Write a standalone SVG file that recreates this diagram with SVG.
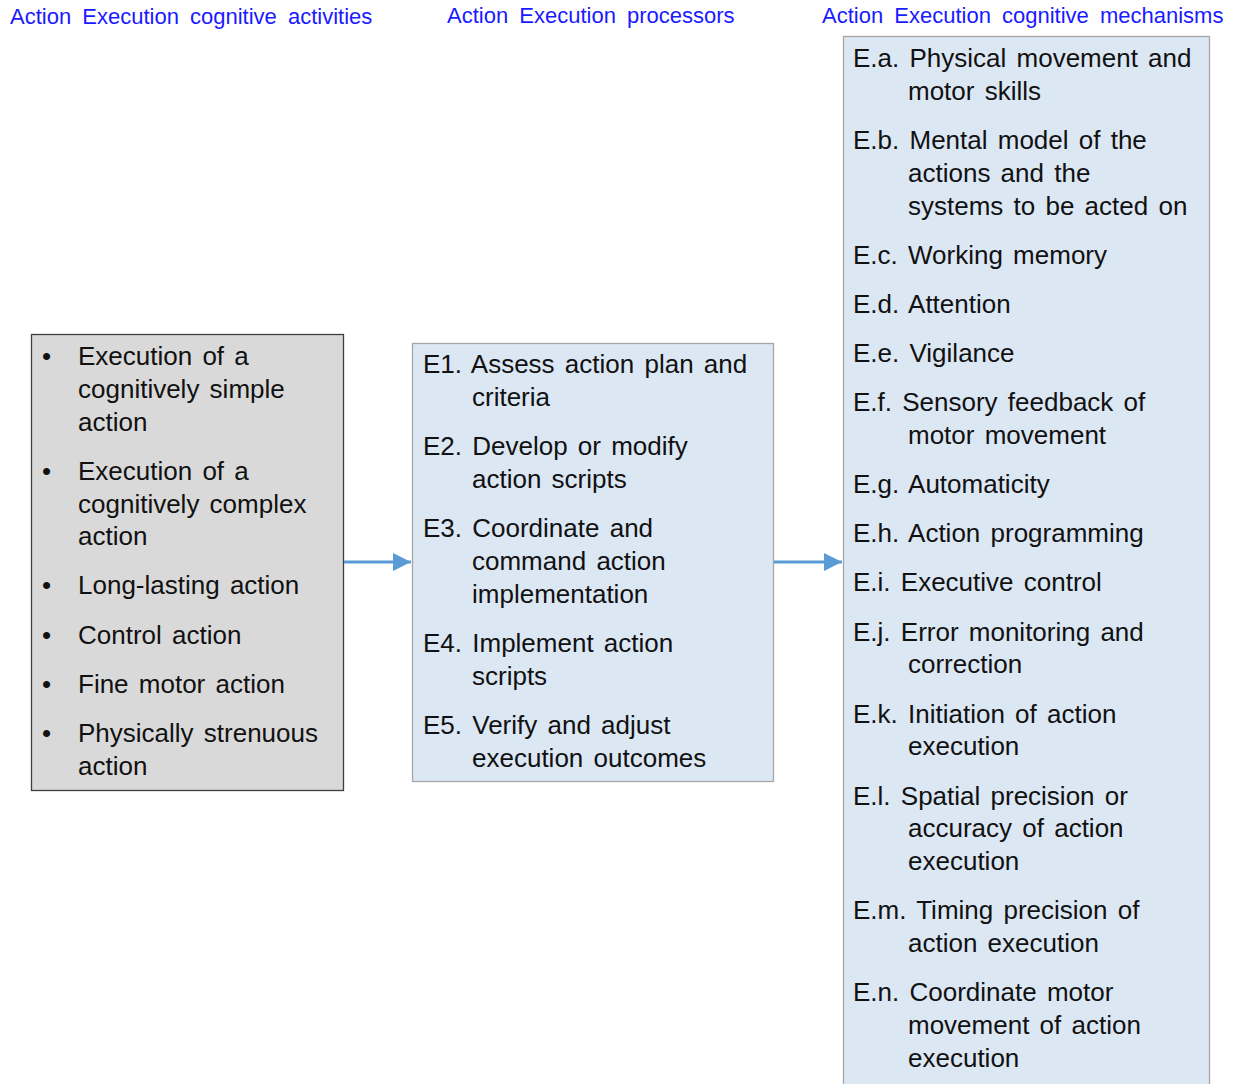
<svg xmlns="http://www.w3.org/2000/svg" width="1239" height="1084" viewBox="0 0 1239 1084">
  <style>
    .hdr { font-family: "Liberation Sans", Arial, sans-serif; font-size: 22px; word-spacing: 5px; fill: #1a1aff; }
    .txt { font-family: "Liberation Sans", Arial, sans-serif; font-size: 26px; word-spacing: 3px; fill: #111; }
    .bul { font-family: "Liberation Sans", Arial, sans-serif; font-size: 26px; fill: #111; }
    .grey { fill: #d9d9d9; stroke: #3f3f3f; stroke-width: 1.3; }
    .blue { fill: #dce7f4; stroke: #a6a6a6; stroke-width: 1.3; }
    .conn { stroke: #5b9bd5; stroke-width: 3; fill: none; }
  </style>
  <defs>
    <marker id="arrow" viewBox="0 0 10 10" refX="10" refY="5" markerWidth="6" markerHeight="6.5" markerUnits="strokeWidth" orient="auto">
      <path d="M0,0 L10,5 L0,10 Z" fill="#5b9bd5"/>
    </marker>
  </defs>
  <rect width="1239" height="1084" fill="#ffffff"/>

  <!-- column headings -->
  <g id="headings">
    <text class="hdr" x="10" y="24">Action Execution cognitive activities</text>
    <text class="hdr" x="447" y="23">Action Execution processors</text>
    <text class="hdr" x="822" y="23">Action Execution cognitive mechanisms</text>
  </g>

  <!-- activities -->
  <g id="activities">
    <rect class="grey" x="31.5" y="334.5" width="312" height="456"/>
    <g class="bul">
      <text x="42" y="365">•</text>
      <text x="42" y="480">•</text>
      <text x="42" y="594">•</text>
      <text x="42" y="644">•</text>
      <text x="42" y="693">•</text>
      <text x="42" y="742">•</text>
    </g>
    <g class="txt">
      <text x="78" y="365">Execution of a</text>
      <text x="78" y="398">cognitively simple</text>
      <text x="78" y="431">action</text>
      <text x="78" y="480">Execution of a</text>
      <text x="78" y="513">cognitively complex</text>
      <text x="78" y="545">action</text>
      <text x="78" y="594">Long-lasting action</text>
      <text x="78" y="644">Control action</text>
      <text x="78" y="693">Fine motor action</text>
      <text x="78" y="742">Physically strenuous</text>
      <text x="78" y="775">action</text>
    </g>
  </g>

  <!-- processors -->
  <g id="processors">
    <rect class="blue" x="412.5" y="343.5" width="361" height="438"/>
    <g class="txt">
      <text x="423" y="373">E1. Assess action plan and</text>
      <text x="472" y="406">criteria</text>
      <text x="423" y="455">E2. Develop or modify</text>
      <text x="472" y="488">action scripts</text>
      <text x="423" y="537">E3. Coordinate and</text>
      <text x="472" y="570">command action</text>
      <text x="472" y="603">implementation</text>
      <text x="423" y="652">E4. Implement action</text>
      <text x="472" y="685">scripts</text>
      <text x="423" y="734">E5. Verify and adjust</text>
      <text x="472" y="767">execution outcomes</text>
    </g>
  </g>

  <!-- mechanisms -->
  <g id="mechanisms">
    <rect class="blue" x="843.5" y="36.5" width="366" height="1060"/>
    <g class="txt">
      <text x="853" y="67">E.a. Physical movement and</text>
      <text x="908" y="100">motor skills</text>
      <text x="853" y="149">E.b. Mental model of the</text>
      <text x="908" y="182">actions and the</text>
      <text x="908" y="215">systems to be acted on</text>
      <text x="853" y="264">E.c. Working memory</text>
      <text x="853" y="313">E.d. Attention</text>
      <text x="853" y="362">E.e. Vigilance</text>
      <text x="853" y="411">E.f. Sensory feedback of</text>
      <text x="908" y="444">motor movement</text>
      <text x="853" y="493">E.g. Automaticity</text>
      <text x="853" y="542">E.h. Action programming</text>
      <text x="853" y="591">E.i. Executive control</text>
      <text x="853" y="641">E.j. Error monitoring and</text>
      <text x="908" y="673">correction</text>
      <text x="853" y="723">E.k. Initiation of action</text>
      <text x="908" y="755">execution</text>
      <text x="853" y="805">E.l. Spatial precision or</text>
      <text x="908" y="837">accuracy of action</text>
      <text x="908" y="870">execution</text>
      <text x="853" y="919">E.m. Timing precision of</text>
      <text x="908" y="952">action execution</text>
      <text x="853" y="1001">E.n. Coordinate motor</text>
      <text x="908" y="1034">movement of action</text>
      <text x="908" y="1067">execution</text>
    </g>
  </g>

  <!-- connectors -->
  <g id="connectors">
    <line class="conn" x1="344" y1="562" x2="411" y2="562" marker-end="url(#arrow)"/>
    <line class="conn" x1="774" y1="562" x2="842" y2="562" marker-end="url(#arrow)"/>
  </g>
</svg>
